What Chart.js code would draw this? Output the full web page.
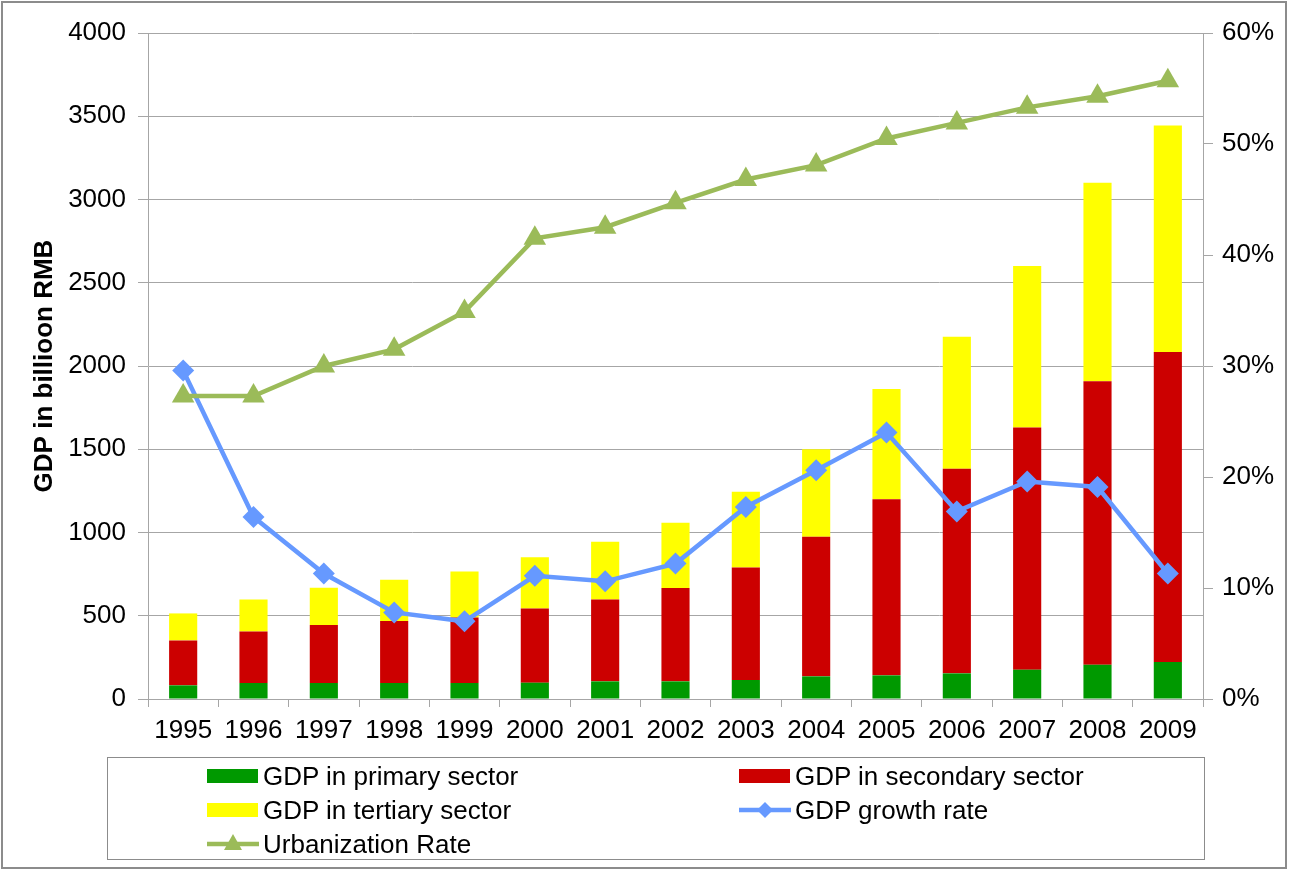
<!DOCTYPE html>
<html>
<head>
<meta charset="utf-8">
<script src="https://cdn.jsdelivr.net/npm/chart.js@4.4.1/dist/chart.umd.min.js"></script>
<style>
  body { margin: 0; background: #fff; font-family: "Liberation Sans", Arial, sans-serif; }
  #wrap { position: relative; width: 1289px; height: 872px; }
  #frame { position: absolute; left: 1px; top: 1px; width: 1286px; height: 868px; border: 2px solid #8c8c8c; box-sizing: border-box; pointer-events: none; }
  #legend { position: absolute; left: 107px; top: 757px; width: 1098px; height: 103px; border: 1px solid #8c8c8c; box-sizing: border-box; }
  .item { position: absolute; height: 30px; display: flex; align-items: center; font-size: 26px; color: #000; white-space: nowrap; }
  .item svg { margin-right: 4px; }
</style>
</head>
<body>
<div id="wrap">
  <canvas id="myChart"></canvas>
  <div id="legend"></div>
  <div id="frame"></div>
</div>
<script>
// data
const years = ["1995", "1996", "1997", "1998", "1999", "2000", "2001", "2002", "2003", "2004", "2005", "2006", "2007", "2008", "2009"];
const primary = [82, 96, 96, 96, 96, 98, 106, 106, 114, 136, 142, 154, 176, 206, 222];
const secondary = [270, 310, 348, 372, 394, 446, 492, 561, 676, 839, 1057, 1229, 1454, 1702, 1862];
const tertiary = [162, 192, 224, 248, 276, 307, 347, 392, 455, 525, 663, 793, 971, 1193, 1361];
const growthRate = [29.6, 16.4, 11.3, 7.8, 7.0, 11.1, 10.6, 12.2, 17.3, 20.6, 24.0, 16.9, 19.6, 19.1, 11.3];
const urbanRate = [27.3, 27.3, 30.0, 31.5, 34.9, 41.5, 42.5, 44.7, 46.8, 48.1, 50.5, 51.9, 53.3, 54.3, 55.7];
const gdpTicks = [0, 500, 1000, 1500, 2000, 2500, 3000, 3500, 4000];
const pctTicks = [0, 10, 20, 30, 40, 50, 60];

Chart.defaults.font.family = '"Liberation Sans", Arial, sans-serif';
Chart.defaults.color = "#000";
const gridGray = "#a6a6a6";

const ctx = document.getElementById("myChart").getContext("2d");
const myChart = new Chart(ctx, {
  type: "bar",
  data: {
    labels: years,
    datasets: [
      { label: "GDP in primary sector", data: primary, backgroundColor: "#009900", yAxisID: "y", order: 2, barPercentage: 0.4, categoryPercentage: 1 },
      { label: "GDP in secondary sector", data: secondary, backgroundColor: "#cc0000", yAxisID: "y", order: 2, barPercentage: 0.4, categoryPercentage: 1 },
      { label: "GDP in tertiary sector", data: tertiary, backgroundColor: "#ffff00", yAxisID: "y", order: 2, barPercentage: 0.4, categoryPercentage: 1 },
      {
        type: "line", label: "GDP growth rate", data: growthRate, yAxisID: "y1", order: 1,
        borderColor: "#6699ff", backgroundColor: "#6699ff", borderWidth: 4.5,
        pointStyle: "rectRot", pointRadius: 11, pointHoverRadius: 11, pointBorderWidth: 0
      },
      {
        type: "line", label: "Urbanization Rate", data: urbanRate, yAxisID: "y1", order: 0,
        borderColor: "#9bbb59", backgroundColor: "#9bbb59", borderWidth: 4.5,
        pointStyle: "triangle", pointRadius: 13, pointHoverRadius: 13, pointBorderWidth: 0
      }
    ]
  },
  options: {
    responsive: true,
    maintainAspectRatio: false,
    animation: false,
    layout: { padding: { left: 0, right: 0, top: 33, bottom: 123 } },
    plugins: { legend: { display: false }, tooltip: { enabled: false } },
    scales: {
      x: {
        stacked: true,
        offset: true,
        grid: { offset: true, drawOnChartArea: false, tickLength: 8, color: gridGray },
        border: { color: gridGray },
        ticks: { font: { size: 26 }, padding: 8, maxRotation: 0, autoSkip: false },
        afterFit: (s) => { s.height = 50; }
      },
      y: {
        stacked: true,
        position: "left",
        min: 0,
        max: 4000,
        afterBuildTicks: (s) => { s.ticks = gdpTicks.map((v) => ({ value: v })); },
        grid: { color: gridGray, tickLength: 10 },
        border: { color: gridGray },
        ticks: { font: { size: 26 }, padding: 12, callback: (v) => String(v) },
        title: { display: true, text: "GDP in billioon RMB", font: { size: 26, weight: "bold" }, padding: { top: 29, bottom: 0 } },
        afterFit: (s) => { s.width = 148; }
      },
      y1: {
        position: "right",
        min: 0,
        max: 60,
        afterBuildTicks: (s) => { s.ticks = pctTicks.map((v) => ({ value: v })); },
        grid: { drawOnChartArea: false, tickLength: 10, color: gridGray },
        border: { color: gridGray },
        ticks: { font: { size: 26 }, padding: 9, callback: (v) => v + "%" },
        afterFit: (s) => { s.width = 86; }
      }
    }
  }
});

// legend laid out like the original: two columns, three rows
const legendSlots = [[99, 3], [631, 3], [99, 37], [631, 37], [99, 71]];
const legendBox = document.getElementById("legend");
myChart.data.datasets.forEach((ds, i) => {
  const item = document.createElement("div");
  item.className = "item";
  item.style.left = legendSlots[i][0] + "px";
  item.style.top = legendSlots[i][1] + "px";
  let svg;
  if (ds.type === "line") {
    let marker;
    if (ds.pointStyle === "rectRot") {
      marker = '<polygon points="26,7 34,15 26,23 18,15" fill="' + ds.borderColor + '"/>';
    } else {
      marker = '<polygon points="26,5 35,21 17,21" fill="' + ds.borderColor + '"/>';
    }
    svg = '<svg width="52" height="30"><line x1="0" y1="15" x2="52" y2="15" stroke="' + ds.borderColor + '" stroke-width="4.5"/>' + marker + "</svg>";
  } else {
    svg = '<svg width="52" height="30"><rect x="0" y="8" width="51" height="14" fill="' + ds.backgroundColor + '"/></svg>';
  }
  item.innerHTML = svg + "<span>" + ds.label + "</span>";
  legendBox.appendChild(item);
});
</script>
</body>
</html>
